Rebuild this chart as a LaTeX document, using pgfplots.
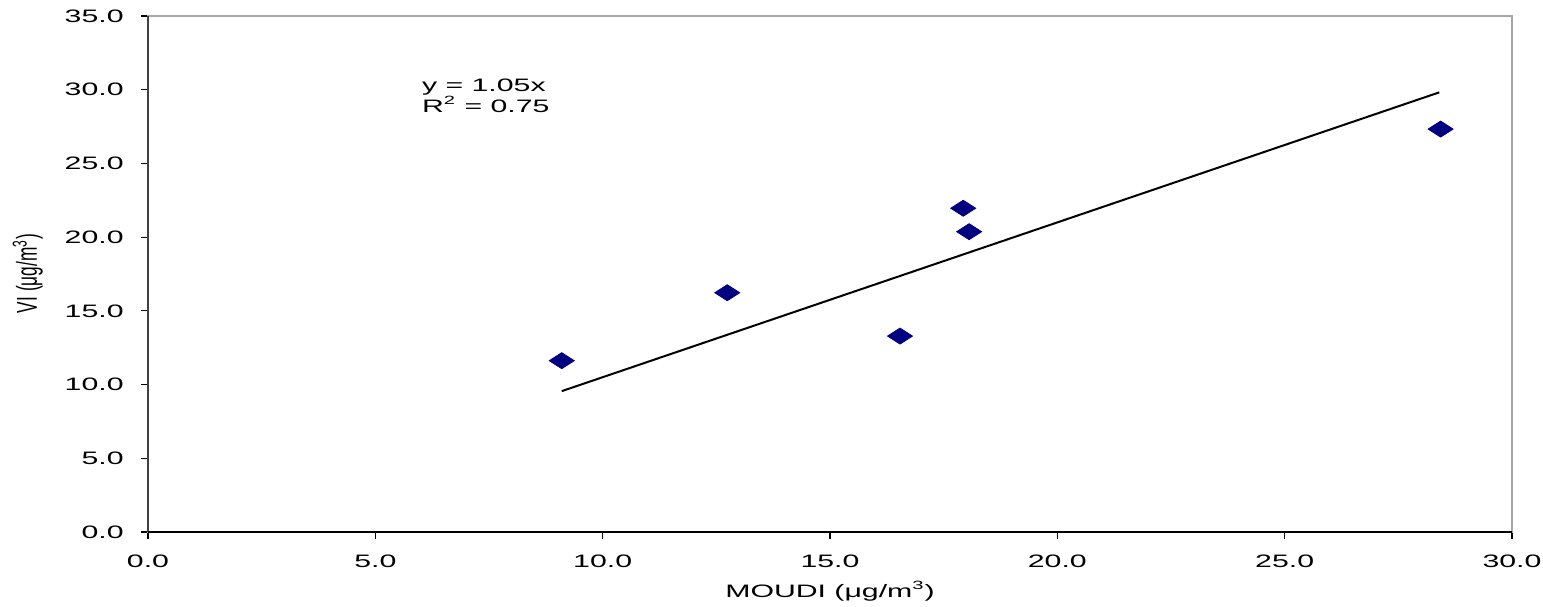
\documentclass[border=0pt]{standalone}
\usepackage{fontspec}
\setmainfont{Liberation Sans}[FakeStretch=1.68]
\newfontfamily\ylabfont{Liberation Sans}[FakeStretch=0.6]
\usepackage{pgfplots}
\pgfplotsset{compat=1.18}
\definecolor{ptnavy}{RGB}{0,0,128}
\begin{document}
\fontsize{9}{10.8}\selectfont
\begin{tikzpicture}
\begin{axis}[
  name=ax,
  scale only axis,
  width=682pt, height=258pt,
  xmin=0, xmax=30, ymin=0, ymax=35,
  xtick={0,5,...,30}, ytick={0,5,...,35},
  tick pos=left, tick align=outside,
  major tick length=3.5pt,
  tick style={black, line width=0.6pt},
  axis line style={draw=gray!70, line width=0.6pt},
  /pgf/number format/assume math mode=true,
  /pgf/number format/.cd, fixed, fixed zerofill, precision=1,
  /pgfplots/.cd,
  tick label style={font=\fontsize{9}{10.8}\selectfont, black},
  xticklabel style={yshift=-5pt},
  yticklabel style={xshift=-5.5pt},
  label style={black},
  every axis x label/.style={at={(rel axis cs:0.5,-0.126)}, anchor=base, font=\fontsize{9}{10.8}\selectfont},
  every axis y label/.style={at={(rel axis cs:-0.0814,0.501)}, anchor=base, rotate=90, font=\ylabfont\fontsize{14.4}{16}\selectfont},
  xlabel={MOUDI (μg/m\textsuperscript{3})},
  ylabel={VI (μg/m\textsuperscript{3})},
  clip=false,
]
\addplot[black, line width=1pt, no marks] coordinates {(9.1,9.555) (28.4,29.82)};
\addplot[only marks, mark=diamond*, mark size=4pt, color=ptnavy,
  mark options={xscale=2.08, fill=ptnavy, draw=ptnavy}] coordinates {
  (9.10,11.62) (12.74,16.23) (16.54,13.29) (17.93,21.96) (18.06,20.37) (28.43,27.33)
};
\draw[darkgray, line width=1pt] (rel axis cs:0,0) -- (rel axis cs:0,1);
\draw[black, line width=0.8pt] (rel axis cs:0,0) -- (rel axis cs:1,0);
\node[anchor=base west, inner sep=0pt] at (axis cs:6.02,29.87)
  {\fontsize{9}{7.8}\selectfont\begin{tabular}[t]{@{}l@{}}y = 1.05x\\R\textsuperscript{2} = 0.75\end{tabular}};
\end{axis}
\pgfresetboundingbox
\path[use as bounding box] ([shift={(-74pt,-37pt)}]ax.south west) rectangle ([shift={(15.5pt,8pt)}]ax.north east);
\end{tikzpicture}
\end{document}
